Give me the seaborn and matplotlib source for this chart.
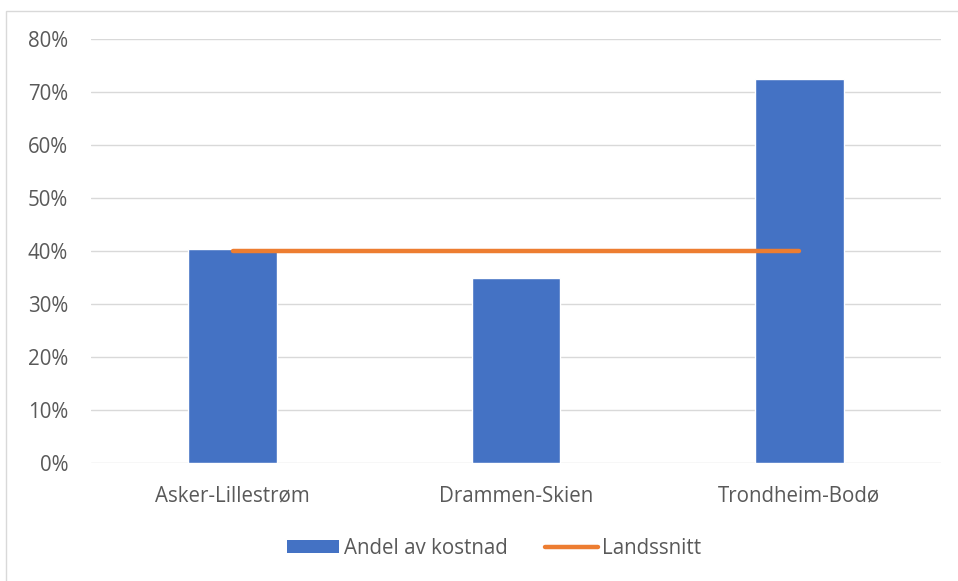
import matplotlib
matplotlib.use("Agg")
import matplotlib.pyplot as plt
from matplotlib.patches import Rectangle, Patch
from matplotlib.lines import Line2D
from matplotlib.ticker import PercentFormatter
import seaborn as sns
import pandas as pd

# Share of cost per corridor, and the national average
categories = ["Asker-Lillestrøm", "Drammen-Skien", "Trondheim-Bodø"]
andel_av_kostnad = [0.405, 0.349, 0.726]
landssnitt = [0.40, 0.40, 0.40]
series_names = ["Andel av kostnad", "Landssnitt"]
y_ticks = [0.0, 0.1, 0.2, 0.3, 0.4, 0.5, 0.6, 0.7, 0.8]

BLUE = "#4472C4"
ORANGE = "#ED7D31"
TEXT = "#595959"
GRID = "#D9D9D9"
FS = 14.8

sns.set_theme(style="white")
plt.rcParams["font.family"] = ["Open Sans", "DejaVu Sans"]

df = pd.DataFrame({"Strekning": categories, "Andel": andel_av_kostnad, "Snitt": landssnitt})

fig = plt.figure(figsize=(9.58, 5.81), dpi=100)
ax = fig.add_axes([91 / 958, 1 - 463.3 / 581, 850 / 958, 424 / 581])

sns.barplot(data=df, x="Strekning", y="Andel", color=BLUE, width=0.314,
            saturation=1, ax=ax, zorder=2)
sns.lineplot(data=df, x="Strekning", y="Snitt", color=ORANGE, linewidth=3.2,
             ax=ax, zorder=3, solid_capstyle="round", sort=False)

ax.set_ylim(0, 0.8)
ax.set_xlim(-0.5, 2.5)
ax.set_yticks(y_ticks)
ax.yaxis.set_major_formatter(PercentFormatter(1.0, decimals=0))
ax.grid(axis="y", color=GRID, linewidth=1.0, zorder=0)
ax.set_axisbelow(True)
for s in ax.spines.values():
    s.set_visible(False)
ax.set_xlabel("")
ax.set_ylabel("")
ax.tick_params(axis="y", length=0, pad=16.5, labelsize=FS, labelcolor=TEXT)
ax.tick_params(axis="x", length=0, pad=16, labelsize=FS, labelcolor=TEXT)

handles = [
    Patch(facecolor=BLUE, edgecolor="none"),
    Line2D([0], [0], color=ORANGE, linewidth=3.2, solid_capstyle="round"),
]
leg = fig.legend(handles, series_names, loc="center", bbox_to_anchor=(494 / 958, 1 - 548 / 581),
                 ncol=2, frameon=False, fontsize=FS, handlelength=2.55, handleheight=0.62,
                 handletextpad=0.22, columnspacing=1.85, labelcolor=TEXT)

# Chart-area frame (display coordinates, origin at bottom-left)
fig.patches.append(Rectangle((5.5, -50), 1000, 620.5, transform=None, fill=False,
                             edgecolor=GRID, linewidth=1.0))

fig.savefig("out.png", dpi=100)
